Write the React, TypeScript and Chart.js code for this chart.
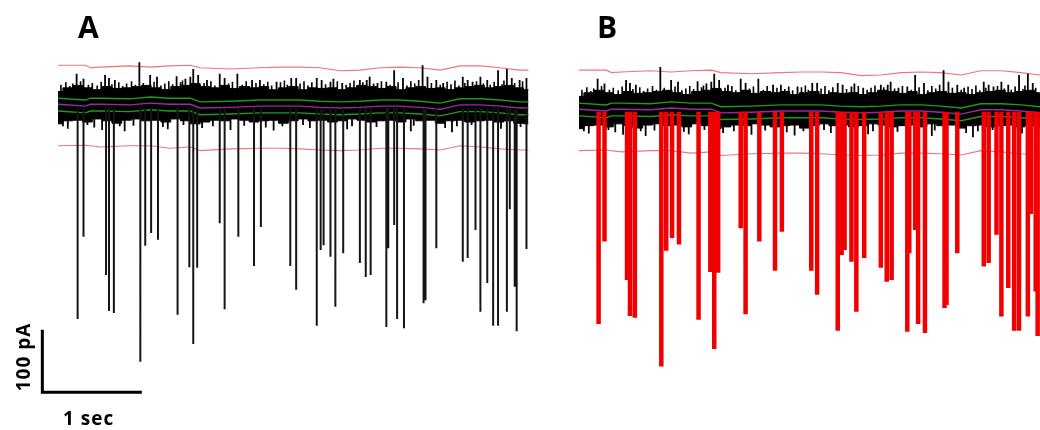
import React, { useEffect, useRef } from "react";
import { Chart, registerables } from "chart.js";

Chart.register(...registerables);

// ---- Data (time in seconds, current in pA, 0 = baseline) ----
// Downward events (time of event, peak amplitude)
const eventTimes = [0.2, 0.26, 0.49, 0.52, 0.57, 0.84, 0.89, 0.95, 1.02, 1.22, 1.34, 1.38, 1.42, 1.65, 1.7, 1.84, 2.0, 2.07, 2.37, 2.43, 2.64, 2.68, 2.71, 2.78, 2.83, 2.91, 3.08, 3.14, 3.19, 3.35, 3.37, 3.43, 3.46, 3.53, 3.73, 3.75, 3.86, 4.13, 4.18, 4.26, 4.31, 4.38, 4.44, 4.49, 4.58, 4.61, 4.66, 4.68, 4.78];
const eventDepths = [-346, -211, -274, -333, -336, -416, -226, -205, -216, -339, -261, -387, -262, -189, -330, -211, -259, -195, -259, -298, -357, -233, -225, -244, -326, -238, -254, -277, -274, -359, -230, -192, -346, -361, -320, -315, -230, -252, -246, -200, -334, -287, -357, -357, -334, -166, -293, -366, -231];

// Tall upward noise tips above the baseline band
const tipTimes = [0.19, 0.26, 0.48, 0.52, 0.58, 0.83, 0.94, 1.01, 1.21, 1.3, 1.35, 1.38, 1.43, 1.52, 1.65, 1.7, 1.83, 1.98, 2.06, 2.23, 2.38, 2.43, 2.64, 2.69, 2.78, 2.81, 2.9, 3.08, 3.15, 3.18, 3.26, 3.35, 3.43, 3.52, 3.72, 3.77, 3.86, 3.93, 4.13, 4.18, 4.23, 4.31, 4.38, 4.49, 4.58, 4.63, 4.71, 4.78];
const tipPeaks = [56, 48, 54, 49, 46, 75, 54, 51, 52, 48, 51, 64, 54, 46, 56, 49, 56, 46, 46, 43, 49, 49, 49, 46, 43, 48, 41, 46, 46, 51, 41, 43, 62, 49, 70, 51, 46, 41, 51, 46, 43, 51, 46, 62, 64, 49, 46, 49];

// Smaller noise tips along the top edge of the band
const smallTipTimes = [0.03, 0.08, 0.12, 0.15, 0.23, 0.31, 0.35, 0.4, 0.44, 0.55, 0.62, 0.66, 0.7, 0.75, 0.79, 0.87, 0.98, 1.05, 1.09, 1.13, 1.17, 1.25, 1.27, 1.45, 1.49, 1.56, 1.6, 1.74, 1.78, 1.88, 1.92, 1.95, 2.02, 2.1, 2.14, 2.18, 2.27, 2.31, 2.34, 2.47, 2.51, 2.55, 2.59, 2.73, 2.85, 2.94, 2.98, 3.02, 3.05, 3.11, 3.22, 3.3, 3.39, 3.47, 3.56, 3.6, 3.64, 3.68, 3.81, 3.9, 3.97, 4.01, 4.05, 4.09, 4.15, 4.27, 4.34, 4.41, 4.45, 4.53, 4.55, 4.66, 4.74];
const smallTipPeaks = [38, 42, 36, 40, 44, 38, 41, 37, 43, 39, 42, 36, 40, 44, 38, 41, 43, 37, 40, 44, 39, 42, 45, 38, 41, 44, 37, 40, 43, 38, 44, 36, 41, 39, 43, 37, 42, 45, 38, 40, 44, 37, 42, 39, 44, 38, 41, 45, 37, 42, 40, 44, 38, 42, 37, 44, 40, 46, 41, 38, 43, 39, 45, 37, 41, 44, 40, 38, 43, 39, 45, 41, 44];

// Short downward noise dips along the bottom edge of the band
const dipTimes = [0.05, 0.1, 0.3, 0.37, 0.45, 0.63, 0.68, 0.77, 1.07, 1.12, 1.28, 1.47, 1.58, 1.76, 1.9, 2.12, 2.2, 2.29, 2.5, 2.57, 2.95, 3.0, 3.25, 3.6, 3.63, 3.95, 4.02, 4.07, 4.22, 4.52, 4.72];
const dipDepths = [-30, -34, -28, -32, -36, -30, -38, -29, -31, -35, -28, -33, -30, -36, -29, -32, -37, -30, -28, -33, -35, -30, -31, -38, -29, -33, -40, -30, -28, -34, -31];

// Envelope of the solid baseline noise band
const envTimes = [0, 0.1, 0.2, 0.3, 0.4, 0.5, 0.6, 0.7, 0.8, 0.9, 1.0, 1.1, 1.2, 1.3, 1.4, 1.5, 1.6, 1.7, 1.8, 1.9, 2.0, 2.1, 2.2, 2.3, 2.4, 2.5, 2.6, 2.7, 2.8, 2.9, 3.0, 3.1, 3.2, 3.3, 3.4, 3.5, 3.6, 3.7, 3.8, 3.9, 4.0, 4.1, 4.2, 4.3, 4.4, 4.5, 4.6, 4.7, 4.8];
const envTop = [27, 33, 37, 33, 30, 35, 32, 33, 35, 37, 33, 30, 35, 37, 40, 35, 33, 37, 32, 35, 33, 35, 30, 33, 35, 30, 33, 32, 33, 30, 33, 37, 35, 32, 35, 30, 33, 35, 32, 33, 30, 33, 35, 37, 33, 35, 37, 33, 30];
const envBottom = [-26, -21, -20, -23, -18, -21, -25, -20, -18, -21, -20, -23, -18, -21, -26, -23, -20, -21, -18, -20, -23, -21, -20, -25, -21, -18, -21, -20, -23, -21, -18, -20, -23, -21, -20, -23, -18, -21, -20, -25, -21, -20, -23, -21, -20, -23, -21, -25, -26];

// Threshold / detection lines
const lineTimes = [0, 0.28, 0.33, 0.43, 0.73, 0.94, 1.14, 1.35, 1.45, 1.76, 2.06, 2.27, 2.47, 2.67, 2.88, 3.08, 3.29, 3.49, 3.69, 3.9, 4.1, 4.31, 4.51, 4.71, 4.8];
const redUpper = [70, 70, 66, 67, 69, 67, 69, 70, 66, 64, 66, 67, 67, 66, 61, 62, 66, 67, 66, 62, 69, 69, 66, 62, 62];
const redLower = [-62, -61, -62, -64, -62, -62, -66, -64, -70, -67, -66, -66, -67, -69, -70, -69, -66, -66, -67, -69, -62, -64, -67, -69, -69];
const greenUpper = [16, 13, 16, 16, 15, 18, 16, 16, 10, 11, 13, 13, 13, 11, 10, 11, 13, 13, 11, 8, 15, 15, 13, 10, 10];
const purpleMid = [6, 3, 6, 6, 5, 8, 6, 6, 0, 1, 3, 3, 3, 1, 0, 1, 3, 3, 1, -2, 5, 5, 3, 0, 0];
const greenLower = [-5, -8, -5, -5, -6, -3, -5, -5, -11, -10, -8, -8, -8, -10, -11, -10, -8, -8, -10, -13, -6, -6, -8, -11, -11];

// Scale bar: 1 sec x 100 pA
const scaleBarT = [-0.16, -0.16, 0.84];
const scaleBarI = [-366, -466, -466];

// Panel B shows the same recording, placed to the right
const PANEL_B_DT = 5.316;
const PANEL_B_DI = -8;

type P = { x: number; y: number | null };

function series(ts: number[], vs: number[], dt: number, di: number): P[] {
  return ts.map((t, i) => ({ x: t + dt, y: vs[i] + di }));
}

function vbars(ts: number[], from: number, to: number[], dt: number, di: number): P[] {
  const out: P[] = [];
  ts.forEach((t, i) => {
    out.push({ x: t + dt, y: from + di });
    out.push({ x: t + dt, y: to[i] + di });
    out.push({ x: t + dt, y: null });
  });
  return out;
}

function panelDatasets(dt: number, di: number, spikeColor: string, spikeWidth: number, spikeFrom: number) {
  const base = { pointRadius: 0, tension: 0, fill: false, spanGaps: false };
  return [
    { ...base, data: series(lineTimes, redUpper, dt, di), borderColor: "rgba(238,110,110,0.95)", borderWidth: 1.1, order: 20 },
    { ...base, data: series(lineTimes, redLower, dt, di), borderColor: "rgba(238,110,110,0.95)", borderWidth: 1.1, order: 20 },
    { ...base, data: series(envTimes, envTop, dt, di), borderColor: "#000", borderWidth: 1, backgroundColor: "#000", fill: "+1", stepped: "middle", order: 18 },
    { ...base, data: series(envTimes, envBottom, dt, di), borderColor: "#000", borderWidth: 1, stepped: "middle", order: 18 },
    { ...base, data: vbars(tipTimes, 25, tipPeaks, dt, di), borderColor: "#000", borderWidth: 1.8, order: 17 },
    { ...base, data: vbars(smallTipTimes, 25, smallTipPeaks, dt, di), borderColor: "#000", borderWidth: 1.6, order: 17 },
    { ...base, data: vbars(dipTimes, -15, dipDepths, dt, di), borderColor: "#000", borderWidth: 1.8, order: 17 },
    { ...base, data: series(lineTimes, greenUpper, dt, di), borderColor: "#1f9a1f", borderWidth: 1.4, order: 15 },
    { ...base, data: series(lineTimes, purpleMid, dt, di), borderColor: "#9a2a9a", borderWidth: 1.4, order: 15 },
    { ...base, data: series(lineTimes, greenLower, dt, di), borderColor: "#1f9a1f", borderWidth: 1.4, order: 15 },
    { ...base, data: vbars(eventTimes, spikeFrom, eventDepths, dt, 0 + di), borderColor: spikeColor, borderWidth: spikeWidth, borderCapStyle: "butt", order: 10 },
  ];
}

export default function App() {
  const ref = useRef<HTMLCanvasElement | null>(null);

  useEffect(() => {
    if (!ref.current) return;
    const datasets: any[] = [
      ...panelDatasets(0, 0, "#151515", 2, 0),
      ...panelDatasets(PANEL_B_DT, PANEL_B_DI, "#f00000", 4.5, 2),
      {
        data: series(scaleBarT, scaleBarI, 0, 0),
        borderColor: "#000",
        borderWidth: 3,
        pointRadius: 0,
        fill: false,
        borderJoinStyle: "miter",
        borderCapStyle: "square",
        order: 1,
      },
    ];
    const chart = new Chart(ref.current, {
      type: "line",
      data: { datasets },
      options: {
        animation: false,
        responsive: false,
        events: [],
        layout: { padding: 0 },
        plugins: { legend: { display: false }, tooltip: { enabled: false } },
        scales: {
          x: { type: "linear", min: -0.592, max: 10.02, display: false },
          y: { type: "linear", min: -527.9, max: 177.0, display: false },
        },
      },
    });
    return () => chart.destroy();
  }, []);

  const bold: React.CSSProperties = {
    position: "absolute",
    fontFamily: "'Open Sans', sans-serif",
    fontWeight: 700,
    color: "#000",
    lineHeight: 1,
    whiteSpace: "nowrap",
  };

  return (
    <div style={{ position: "absolute", left: 0, top: 0, width: 1040, height: 430, background: "#fff", overflow: "hidden" }}>
      <canvas ref={ref} width={1040} height={430} style={{ display: "block", width: 1040, height: 430 }} />
      <div style={{ ...bold, left: 78, top: 12, fontSize: 30 }}>A</div>
      <div style={{ ...bold, left: 597, top: 12, fontSize: 30 }}>B</div>
      <div style={{ ...bold, left: 23, top: 357, fontSize: 19, letterSpacing: 1, transform: "translate(-50%, -50%) rotate(-90deg)" }}>100 pA</div>
      <div style={{ ...bold, left: 63, top: 409, fontSize: 19, letterSpacing: 1 }}>1 sec</div>
    </div>
  );
}
